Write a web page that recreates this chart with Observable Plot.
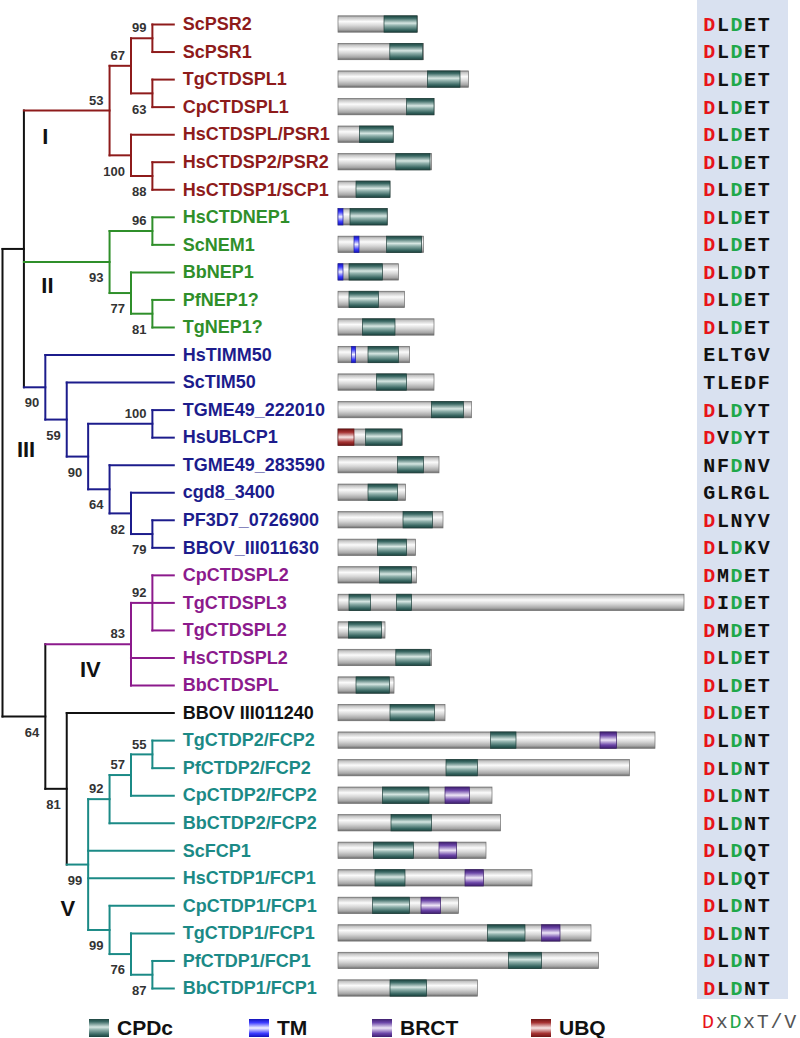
<!DOCTYPE html>
<html><head><meta charset="utf-8">
<script src="https://cdn.jsdelivr.net/npm/d3@7"></script>
<script src="https://cdn.jsdelivr.net/npm/@observablehq/plot@0.6"></script>
<style>
body{margin:0;background:#fff;}
#wrap{position:relative;width:800px;height:1038px;overflow:hidden;font-family:"Liberation Sans",Arial,sans-serif;}
.panel{position:absolute;top:0;}
.panel svg{background:transparent !important;overflow:visible;max-width:none !important;}
#motifBg{position:absolute;left:697px;top:0;width:91px;height:999px;background:#d9e1f0;}
.sw{position:absolute;top:1019px;width:20px;height:18px;}
.lt{position:absolute;top:1016px;font-weight:bold;font-size:21px;line-height:24px;color:#111;}
#consensus{position:absolute;left:702px;top:1011px;font-family:"Liberation Mono","Courier New",monospace;font-size:20px;line-height:24px;letter-spacing:1.7px;color:#555;}
</style></head><body>
<div id="wrap">
  <div id="motifBg"></div>
  <div class="panel" id="tree" style="left:0"></div>
  <div class="panel" id="doms" style="left:330px"></div>
  <div class="panel" id="motifs" style="left:690px"></div>
  <div id="legend"></div>
</div>
<script>
// ---------------- DATA ----------------
const taxa = ["ScPSR2","ScPSR1","TgCTDSPL1","CpCTDSPL1","HsCTDSPL/PSR1","HsCTDSP2/PSR2","HsCTDSP1/SCP1",
  "HsCTDNEP1","ScNEM1","BbNEP1","PfNEP1?","TgNEP1?",
  "HsTIMM50","ScTIM50","TGME49_222010","HsUBLCP1","TGME49_283590","cgd8_3400","PF3D7_0726900","BBOV_III011630",
  "CpCTDSPL2","TgCTDSPL3","TgCTDSPL2","HsCTDSPL2","BbCTDSPL",
  "BBOV III011240",
  "TgCTDP2/FCP2","PfCTDP2/FCP2","CpCTDP2/FCP2","BbCTDP2/FCP2","ScFCP1","HsCTDP1/FCP1","CpCTDP1/FCP1","TgCTDP1/FCP1","PfCTDP1/FCP1","BbCTDP1/FCP1"];
const cladeOfTaxon = ["I","I","I","I","I","I","I","II","II","II","II","II",
  "III","III","III","III","III","III","III","III","IV","IV","IV","IV","IV","none",
  "V","V","V","V","V","V","V","V","V","V"];
const cladeColors = {I:"#8e1b1b", II:"#2f8f2a", III:"#1c1c8c", IV:"#8c1a8c", V:"#1b8a86", none:"#111111"};

// Tree topology: internal nodes annotated "support@columnLevel" + a/b (support label above/below)
const newick =
  "((" +
  "(((ScPSR2,ScPSR1)99@7a,(TgCTDSPL1,CpCTDSPL1)63@7b)67@6a,(HsCTDSPL/PSR1,(HsCTDSP2/PSR2,HsCTDSP1/SCP1)88@7b)100@6b)53@5a," +
  "((HsCTDNEP1,ScNEM1)96@7a,(BbNEP1,(PfNEP1?,TgNEP1?)81@7b)77@6b)93@5b," +
  "(HsTIMM50,(ScTIM50,((TGME49_222010,HsUBLCP1)100@7a,(TGME49_283590,(cgd8_3400,(PF3D7_0726900,BBOV_III011630)79@7b)82@6b)64@5b)90@4b)59@3b)90@2b" +
  ")@1," +
  "(" +
  "((CpCTDSPL2,TgCTDSPL3,TgCTDSPL2)92@7a,HsCTDSPL2,BbCTDSPL)83@6a," +
  "(BBOV III011240,((((TgCTDP2/FCP2,PfCTDP2/FCP2)55@7a,CpCTDP2/FCP2)57@6a,BbCTDP2/FCP2)92@5a,ScFCP1,HsCTDP1/FCP1,(CpCTDP1/FCP1,(TgCTDP1/FCP1,(PfCTDP1/FCP1,BbCTDP1/FCP1)87@7b)76@6b)99@5b)99@4b)81@3b" +
  ")64@2b" +
  ")@0";
const tipLevel = 8;

const cladeLabels = ["I","II","III","IV","V"];
const cladeLabelLevel = [2.0, 2.1, 1.1, 4.1, 3.05];
const cladeLabelRow = [4.1, 9.5, 15.45, 23.45, 32.1];

// protein lengths (aa) and domains [taxon, start, end]
const proteinLength = [397,428,652,480,276,468,260,246,428,302,333,480,358,480,668,322,505,338,525,388,
  393,1730,235,468,280,535,1585,1457,770,813,740,970,602,1265,1303,697];
const cpdc = [["ScPSR2",230,395],["ScPSR1",259,423],["TgCTDSPL1",447,610],["CpCTDSPL1",343,480],
  ["HsCTDSPL/PSR1",107,276],["HsCTDSP2/PSR2",289,460],["HsCTDSP1/SCP1",90,260],["HsCTDNEP1",60,246],
  ["ScNEM1",243,418],["BbNEP1",55,222],["PfNEP1?",55,202],["TgNEP1?",122,285],["HsTIMM50",150,302],
  ["ScTIM50",193,343],["TGME49_222010",467,627],["HsUBLCP1",138,318],["TGME49_283590",298,427],
  ["cgd8_3400",150,297],["PF3D7_0726900",325,472],["BBOV_III011630",198,343],["CpCTDSPL2",207,368],
  ["TgCTDSPL3",55,163],["TgCTDSPL3",293,368],["TgCTDSPL2",52,218],["HsCTDSPL2",289,460],["BbCTDSPL",90,257],
  ["BBOV III011240",260,482],["TgCTDP2/FCP2",763,890],["PfCTDP2/FCP2",540,697],["CpCTDP2/FCP2",222,455],
  ["BbCTDP2/FCP2",265,468],["ScFCP1",177,377],["HsCTDP1/FCP1",185,335],["CpCTDP1/FCP1",173,357],
  ["TgCTDP1/FCP1",747,935],["PfCTDP1/FCP1",852,1018],["BbCTDP1/FCP1",260,443]];
const tm = [["HsCTDNEP1",0,25],["ScNEM1",80,105],["BbNEP1",0,25],["HsTIMM50",67,88]];
const brct = [["TgCTDP2/FCP2",1310,1393],["CpCTDP2/FCP2",535,657],["ScFCP1",505,593],
  ["HsCTDP1/FCP1",635,727],["CpCTDP1/FCP1",415,513],["TgCTDP1/FCP1",1018,1110]];
const ubq = [["HsUBLCP1",0,80]];

const motifs = ["DLDET","DLDET","DLDET","DLDET","DLDET","DLDET","DLDET","DLDET","DLDET","DLDDT","DLDET","DLDET",
  "ELTGV","TLEDF","DLDYT","DVDYT","NFDNV","GLRGL","DLNYV","DLDKV",
  "DMDET","DIDET","DMDET","DLDET","DLDET","DLDET",
  "DLDNT","DLDNT","DLDNT","DLDNT","DLDQT","DLDQT","DLDNT","DLDNT","DLDNT","DLDNT"];
const legendNames = ["CPDc","TM","BRCT","UBQ"];
const consensus = "DxDxT/V";

// ---------------- STYLE ----------------
const RED = "#e8141b", GREEN = "#1fa84a";
const H = 1000, MT = 24, MB = 12;
const sans = "Liberation Sans, Arial, sans-serif";
const mono = "Liberation Mono, Courier New, monospace";
const grads = {
  gGray: [[0,"#8a8a8a"],[0.1,"#c4c4c4"],[0.35,"#fbfbfb"],[0.6,"#d6d6d6"],[0.85,"#a6a6a6"],[1,"#6a6a6a"]],
  gCPDc: [[0,"#1d4641"],[0.15,"#3c6a65"],[0.45,"#d6e6e2"],[0.6,"#8fb0ab"],[0.85,"#3a6863"],[1,"#1b423e"]],
  gTM:   [[0,"#1212b8"],[0.2,"#3c3cff"],[0.5,"#f2f2ff"],[0.8,"#3c3cff"],[1,"#1212b8"]],
  gBRCT: [[0,"#3e1f6e"],[0.2,"#6c46a8"],[0.5,"#eee6f7"],[0.8,"#6c46a8"],[1,"#3e1f6e"]],
  gUBQ:  [[0,"#6e1414"],[0.2,"#a53232"],[0.5,"#f7e7e7"],[0.8,"#a53232"],[1,"#6e1414"]]
};
const legendGrad = {CPDc:"gCPDc", TM:"gTM", BRCT:"gBRCT", UBQ:"gUBQ"};
const legendLeft = {CPDc:89, TM:249, BRCT:372, UBQ:531};

// ---------------- TREE ----------------
function parseNewick(s){
  let i = 0;
  function readLabel(){ const j = i; while (i < s.length && !",()".includes(s[i])) i++; return s.slice(j, i); }
  function node(){
    if (s[i] === "("){
      i++;
      const children = [node()];
      while (s[i] === ","){ i++; children.push(node()); }
      i++;
      const m = readLabel().match(/^(\d*)@(\d+)([ab]?)$/);
      return {children, support: m[1] || null, level: +m[2], pos: m[3]};
    }
    return {name: readLabel()};
  }
  return node();
}
const root = parseNewick(newick);
const links = [], supports = [];
function layout(n){
  if (!n.children){
    n.level = tipLevel; n.y = taxa.indexOf(n.name); n.clade = cladeOfTaxon[n.y];
    return;
  }
  n.children.forEach(layout);
  const f = n.children[0], l = n.children[n.children.length - 1];
  n.y = (f.y + l.y) / 2;
  const cs = new Set(n.children.map(c => c.clade));
  n.clade = cs.size === 1 ? [...cs][0] : "none";
  links.push({x1: n.level, x2: n.level, y1: f.y, y2: l.y, color: cladeColors[n.clade]});
  n.children.forEach(c => links.push({x1: n.level, x2: c.level, y1: c.y, y2: c.y, color: cladeColors[c.clade]}));
  if (n.support) supports.push({x: n.level, y: n.y, text: n.support, pos: n.pos});
}
layout(root);

const treePlot = Plot.plot({
  width: 340, height: H, marginLeft: 2, marginRight: 166.7, marginTop: MT, marginBottom: MB,
  x: {domain: [0, tipLevel], axis: null},
  y: {domain: [0, taxa.length - 1], reverse: true, axis: null},
  color: {type: "identity"},
  marks: [
    Plot.link(links, {x1: "x1", x2: "x2", y1: "y1", y2: "y2", stroke: "color", strokeWidth: 2, strokeLinecap: "square"}),
    Plot.text(taxa.map((t, i) => ({t, i, c: cladeColors[cladeOfTaxon[i]]})),
      {x: () => tipLevel, y: "i", text: "t", fill: "c", textAnchor: "start", dx: 9, fontSize: 18, fontWeight: "bold", fontFamily: sans}),
    Plot.text(supports.filter(d => d.pos === "a"),
      {x: "x", y: "y", text: "text", textAnchor: "end", dx: -6, dy: -10, fontSize: 13, fontWeight: "bold", fill: "#333", fontFamily: sans}),
    Plot.text(supports.filter(d => d.pos === "b"),
      {x: "x", y: "y", text: "text", textAnchor: "end", dx: -6, dy: 16, fontSize: 13, fontWeight: "bold", fill: "#333", fontFamily: sans}),
    Plot.text(cladeLabels.map((c, i) => ({c, x: cladeLabelLevel[i], y: cladeLabelRow[i]})),
      {x: "x", y: "y", text: "c", fontSize: 22, fontWeight: "bold", fill: "#111", fontFamily: sans})
  ]
});
document.getElementById("tree").appendChild(treePlot);

// ---------------- DOMAINS ----------------
const rowOf = n => taxa.indexOf(n);
const toRects = arr => arr.map(([n, s, e]) => ({row: rowOf(n), s, e}));
const inset = 5.6;
const rectOpts = (fill, stroke) => ({x1: "s", x2: "e", y1: d => d.row - 0.5, y2: d => d.row + 0.5,
  insetTop: inset, insetBottom: inset, fill, stroke, strokeWidth: 0.7});
const domPlot = Plot.plot({
  width: 370, height: H, marginLeft: 8, marginRight: 16, marginTop: MT, marginBottom: MB,
  x: {domain: [0, d3.max(proteinLength)], axis: null},
  y: {domain: [0, taxa.length - 1], reverse: true, axis: null},
  marks: [
    Plot.rect(proteinLength.map((L, i) => ({row: i, s: 0, e: L})), rectOpts("url(#gGray)", "#6f6f6f")),
    Plot.rect(toRects(cpdc), rectOpts("url(#gCPDc)", "#1f3f3b")),
    Plot.rect(toRects(tm), rectOpts("url(#gTM)", "#2020a0")),
    Plot.rect(toRects(brct), rectOpts("url(#gBRCT)", "#3a1d66")),
    Plot.rect(toRects(ubq), rectOpts("url(#gUBQ)", "#6a1414"))
  ]
});
const defs = d3.select(domPlot).insert("defs", ":first-child");
for (const [id, stops] of Object.entries(grads)){
  const g = defs.append("linearGradient").attr("id", id).attr("x1", 0).attr("y1", 0).attr("x2", 0).attr("y2", 1);
  stops.forEach(([o, c]) => g.append("stop").attr("offset", o).attr("stop-color", c));
}
document.getElementById("doms").appendChild(domPlot);

// ---------------- MOTIFS ----------------
const chars = motifs.flatMap((m, row) => [...m].map((ch, pos) => ({row, pos, ch,
  color: (pos === 0 && ch === "D") ? RED : (pos === 2 && ch === "D") ? GREEN : "#111111"})));
const motifPlot = Plot.plot({
  width: 110, height: H, marginLeft: 18.8, marginRight: 36.8, marginTop: MT, marginBottom: MB,
  x: {domain: [0, 4], axis: null},
  y: {domain: [0, taxa.length - 1], reverse: true, axis: null},
  color: {type: "identity"},
  marks: [
    Plot.text(chars, {x: "pos", y: "row", text: "ch", fill: "color", fontFamily: mono, fontWeight: "bold", fontSize: 20})
  ]
});
document.getElementById("motifs").appendChild(motifPlot);

// ---------------- LEGEND ----------------
const leg = d3.select("#legend");
const cssGrad = id => "linear-gradient(to bottom," + grads[id].map(([o, c]) => c + " " + (o * 100) + "%").join(",") + ")";
legendNames.forEach(n => {
  leg.append("div").attr("class", "sw").style("left", legendLeft[n] + "px").style("background", cssGrad(legendGrad[n]));
  leg.append("div").attr("class", "lt").style("left", (legendLeft[n] + 28) + "px").text(n);
});
const cons = leg.append("div").attr("id", "consensus");
[...consensus].forEach((ch, i) => cons.append("span")
  .style("color", i === 0 ? RED : i === 2 ? GREEN : "#555").text(ch));
</script>
</body></html>
